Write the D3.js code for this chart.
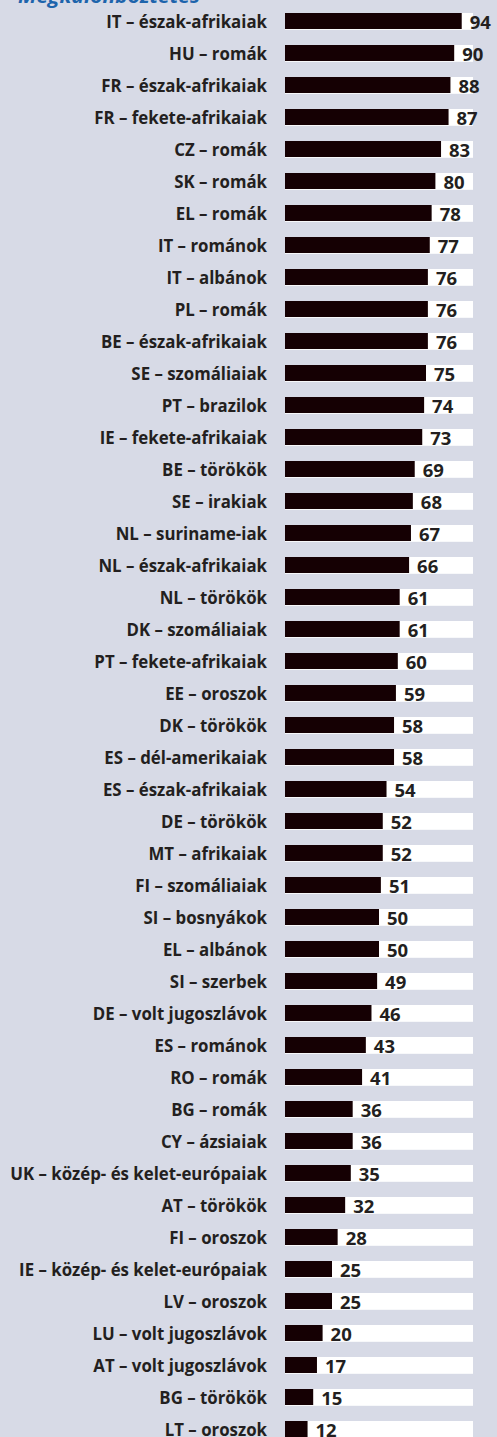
<!DOCTYPE html>
<html><head><meta charset="utf-8">
<script src="https://cdn.jsdelivr.net/npm/d3@7"></script>
<style>
html,body{margin:0;padding:0;background:#d7dae6;}
svg{display:block;}
</style></head>
<body>
<svg id="c" width="497" height="1437"></svg>
<script>
const title = "Megkülönböztetés";
const categories = [
"IT – észak-afrikaiak","HU – romák","FR – észak-afrikaiak","FR – fekete-afrikaiak","CZ – romák",
"SK – romák","EL – romák","IT – románok","IT – albánok","PL – romák",
"BE – észak-afrikaiak","SE – szomáliaiak","PT – brazilok","IE – fekete-afrikaiak","BE – törökök",
"SE – irakiak","NL – suriname-iak","NL – észak-afrikaiak","NL – törökök","DK – szomáliaiak",
"PT – fekete-afrikaiak","EE – oroszok","DK – törökök","ES – dél-amerikaiak","ES – észak-afrikaiak",
"DE – törökök","MT – afrikaiak","FI – szomáliaiak","SI – bosnyákok","EL – albánok",
"SI – szerbek","DE – volt jugoszlávok","ES – románok","RO – romák","BG – romák",
"CY – ázsiaiak","UK – közép- és kelet-európaiak","AT – törökök","FI – oroszok","IE – közép- és kelet-európaiak",
"LV – oroszok","LU – volt jugoszlávok","AT – volt jugoszlávok","BG – törökök","LT – oroszok"];
const values = [94,90,88,87,83,80,78,77,76,76,76,75,74,73,69,68,67,66,61,61,60,59,58,58,54,52,52,51,50,50,49,46,43,41,36,36,35,32,28,25,25,20,17,15,12];
const domainMax = 100;

const svg = d3.select("#c");
const x = d3.scaleLinear().domain([0, domainMax]).range([285, 473]);
const y = d3.scaleBand().domain(categories).range([5, 5 + 45*32]).paddingInner(0.5).paddingOuter(0.25);

svg.append("rect").attr("width",497).attr("height",1437).attr("fill","#d7dae6");

const tg = svg.append("g");
const tt = tg.append("text").attr("x",0).attr("y",2.5)
  .attr("font-family","Open Sans").attr("font-weight","bold").attr("font-style","italic")
  .attr("font-size",19).attr("fill","#1d64ac").text(title);
const tw = tt.node().getComputedTextLength();
tg.attr("transform", `translate(18,0) scale(${182/tw},1)`);

const rows = svg.append("g").selectAll("g").data(categories).join("g");

rows.append("rect").attr("x", x(0)).attr("y", d => y(d)).attr("width", x(domainMax)-x(0))
  .attr("height", y.bandwidth()+0.8).attr("fill","#ffffff");
rows.append("rect").attr("x", x(0)).attr("y", d => y(d))
  .attr("width", (d,i) => x(values[i]) - x(0)).attr("height", y.bandwidth()).attr("fill","#150003");

const labG = svg.append("g");
const labs = labG.selectAll("text").data(categories).join("text")
  .attr("x", 0).attr("y", d => y(d) + 15)
  .attr("text-anchor","end")
  .attr("font-family","Open Sans").attr("font-weight","bold").attr("font-size",18.5)
  .attr("fill","#231f20").text(d => d);
let maxW = 0;
labs.each(function(){ maxW = Math.max(maxW, this.getComputedTextLength()); });
const r = 257 / maxW;
labG.attr("transform", `translate(267,0) scale(${r},1)`);

svg.append("g").selectAll("text").data(categories).join("text")
  .attr("x", (d,i) => x(values[i]) + 8).attr("y", d => y(d) + 15.5)
  .attr("font-family","Open Sans").attr("font-weight","bold").attr("font-size",18.5)
  .attr("fill","#231f20").text((d,i) => values[i]);
</script>
</body></html>
